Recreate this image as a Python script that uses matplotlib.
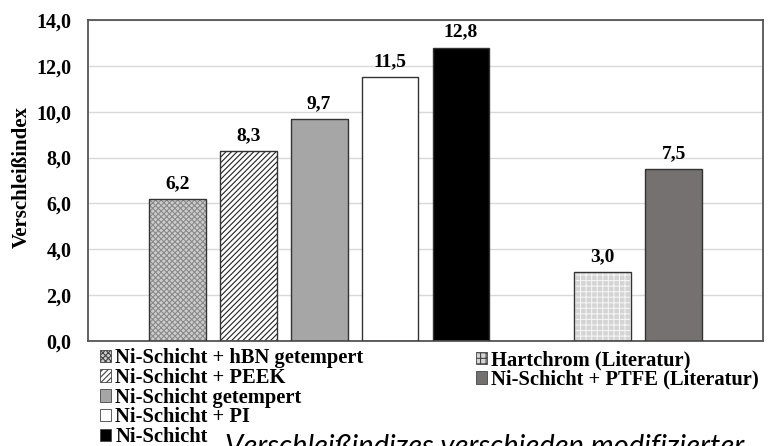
import matplotlib.pyplot as plt
from matplotlib.patches import Patch

# Data
labels = ['Ni-Schicht + hBN getempert', 'Ni-Schicht + PEEK', 'Ni-Schicht getempert',
          'Ni-Schicht + PI', 'Ni-Schicht', 'Hartchrom (Literatur)',
          'Ni-Schicht + PTFE (Literatur)']
values = [6.2, 8.3, 9.7, 11.5, 12.8, 3.0, 7.5]
positions = [0, 1, 2, 3, 4, 6, 7]
y_ticks = [0, 2, 4, 6, 8, 10, 12, 14]

# Styles: face colour, hatch, hatch colour
faces = ['#cdcdcd', 'white', '#a6a6a6', 'white', 'black', '#d4d4d4', '#757170']
hatches = ['xxxxxx', '//////', None, None, None, '+++', None]
hatch_cols = ['#8a8a8a', '#222222', '#a6a6a6', 'white', 'black', '#f4f4f4', '#757170']

serif = 'Liberation Serif'

fig = plt.figure(figsize=(7.77, 4.46), dpi=100)
ax = fig.add_axes([0.1133, 0.2354, 0.8687, 0.7197])

plt.rcParams['hatch.linewidth'] = 0.8

for x, v, fc, h, hc in zip(positions, values, faces, hatches, hatch_cols):
    ax.bar(x, v, width=0.8, color=fc, hatch=h, edgecolor=hc, linewidth=0, zorder=2)
    ax.bar(x, v, width=0.8, fill=False, edgecolor='#333333', linewidth=1.0, zorder=3)
    ax.text(x, v + 0.3, f'{v:.1f}'.replace('.', ','), ha='center', va='bottom',
            fontsize=14, fontweight='bold', family=serif)

ax.set_xlim(-1.26, 8.26)
ax.set_ylim(0, 14)
ax.set_yticks(y_ticks)
ax.set_yticklabels([f'{t:.1f}'.replace('.', ',') for t in y_ticks],
                   fontsize=14.5, fontweight='bold', family=serif)
ax.set_xticks([])
ax.tick_params(axis='y', length=0, pad=12)
ax.yaxis.grid(True, color='#d9d9d9', linewidth=1.0, zorder=0)
ax.set_axisbelow(True)
for s in ax.spines.values():
    s.set_color('#555555')
    s.set_linewidth(1.3)
ax.set_ylabel('Verschleißindex', fontsize=15, fontweight='bold', family=serif)
ax.yaxis.set_label_coords(-0.083, 0.51)


def handle(i):
    return Patch(facecolor=faces[i], hatch=hatches[i], edgecolor='#444444', linewidth=0.6)


leg_font = {'family': serif, 'weight': 'bold', 'size': 14.8}
leg1 = fig.legend([handle(i) for i in range(5)], labels[:5], loc='upper left',
                  bbox_to_anchor=(100 / 777, (446 - 348) / 446), frameon=False,
                  prop=leg_font, borderpad=0, borderaxespad=0, handlelength=0.55,
                  handleheight=0.55, handletextpad=0.2, labelspacing=-0.01)
leg2 = fig.legend([handle(i) for i in (5, 6)], labels[5:], loc='upper left',
                  bbox_to_anchor=(476 / 777, (446 - 350) / 446), frameon=False,
                  prop=leg_font, borderpad=0, borderaxespad=0, handlelength=0.55,
                  handleheight=0.55, handletextpad=0.2, labelspacing=-0.01)

fig.text(225 / 777, (446 - 434) / 446, 'Verschleißindizes verschieden modifizierter',
         fontsize=21, style='italic', family='Lato', va='top', ha='left')

fig.savefig('out.png', dpi=100)
